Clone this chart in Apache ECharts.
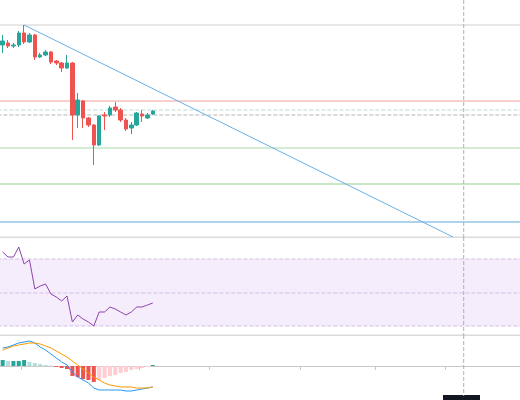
<!DOCTYPE html>
<html><head><meta charset="utf-8">
<script src="https://cdn.jsdelivr.net/npm/echarts@6/dist/echarts.min.js"></script>
<style>html,body{margin:0;background:#fff}#c{width:520px;height:400px}</style>
</head><body><div id="c"></div>
<script>
var myChart = echarts.init(document.getElementById('c'));

var slotCount = 97;
// candles: [open, close, low, high] in screen-like price units (axis inverted)
var candles = [
  [45, 41, 35, 53], [43, 46, 40, 48], [46, 45, 43, 48], [45, 33, 31, 47], [33, 42, 25, 44],
  [42, 35, 33, 43], [35, 57, 34, 60], [57, 55, 53, 58], [55, 52, 50, 56], [52, 62, 51, 64],
  [61, 63, 60, 65], [63, 68, 62, 72], [68, 63, 55, 69], [63, 115, 62, 140], [115, 100, 93, 128],
  [101, 118, 100, 128], [118, 125, 117, 127], [125, 145, 124, 165], [145, 116, 115, 146], [115, 116, 112, 130],
  [115, 108, 106, 117], [107, 110, 102, 112], [110, 120, 108, 122], [120, 129, 118, 131], [128, 125, 122, 134],
  [125, 113, 112, 126], [114, 116, 110, 122], [118, 115, 113, 119], [114, 111, 110, 115]
];
var rsi = [252, 257, 257, 247, 264, 260, 289, 286, 284, 294, 297, 301, 296, 322, 315, 319, 322, 326, 312, 312, 307, 309, 312, 315, 312, 307, 307, 305, 303];
var hist = [6, 5, 5, 5, 6, 4, 3, 2, 1, 0.5, -1, -2, -3, -10, -11, -13, -14, -16, -14, -12, -10, -9, -7, -6, -4, -3, -2, -1, 1];
var macd = [348, 347, 345, 343, 342, 341, 343, 347, 350, 354, 358, 362, 365, 372, 377, 380, 383, 388, 390, 390, 390, 390, 390, 391, 391, 390, 389, 388, 387];
var signal = [350, 348, 346, 345, 344, 343, 343, 344, 346, 348, 351, 354, 357, 361, 365, 369, 373, 377, 380, 383, 385, 386, 387, 387, 387, 388, 388, 388, 387];
var levels = [
  {y: 25, color: '#d0d0d0', type: 'solid'},
  {y: 101, color: '#f0a0a0', type: 'solid'},
  {y: 110, color: '#b9dcd8', type: 'dashed'},
  {y: 115, color: '#b5b5b5', type: 'dashed'},
  {y: 148, color: '#a6dba6', type: 'solid'},
  {y: 184, color: '#8fcf8f', type: 'solid'},
  {y: 222, color: '#5aa9d6', type: 'solid'}
];
var rsiLevels = [259, 293, 326];
var trend = [[4, 25], [84, 237]];
var crossIdx = 86;
var tickIdx = [4, 13, 26, 39, 56, 70, 83];

var cats = [];
for (var i = 0; i < slotCount; i++) cats.push(i);

var histColors = hist.map(function (v, i) {
  var p = i ? hist[i - 1] : 0;
  if (v >= 0) return v >= p ? '#26a69a' : '#b2dfdb';
  return v <= p ? '#ef5350' : '#ffcdd2';
});

var xBase = {type: 'category', data: cats, boundaryGap: true,
  axisLine: {show: false}, axisTick: {show: false}, axisLabel: {show: false}, splitLine: {show: false}};

// horizontal level drawn as a two-point line across the pane
function hline(k, y, color, type) {
  return {type: 'line', xAxisIndex: k, yAxisIndex: k, data: [[-1, y], [slotCount, y]],
    symbol: 'none', silent: true, z: 1, lineStyle: {color: color, type: type, width: 1}};
}

var series = [
  {type: 'candlestick', xAxisIndex: 0, yAxisIndex: 0, data: candles, barWidth: 4, z: 5,
    itemStyle: {color: '#ef5350', color0: '#26a69a', borderColor: '#ef5350', borderColor0: '#26a69a'}},
  {type: 'line', xAxisIndex: 0, yAxisIndex: 0, data: trend, symbol: 'none',
    lineStyle: {color: '#6ab0e6', width: 1}},
  {type: 'line', xAxisIndex: 1, yAxisIndex: 1, data: rsi, symbol: 'none', z: 5,
    lineStyle: {color: '#8e44ad', width: 1},
    markArea: {silent: true, itemStyle: {color: 'rgba(200,150,240,0.18)'}, data: [[{yAxis: 259}, {yAxis: 326}]]}},
  {type: 'bar', xAxisIndex: 2, yAxisIndex: 3, barWidth: 4,
    data: hist.map(function (v, i) { return {value: v, itemStyle: {color: histColors[i]}}; })},
  {type: 'line', xAxisIndex: 2, yAxisIndex: 2, data: macd, symbol: 'none', z: 5,
    lineStyle: {color: '#2196f3', width: 1}},
  {type: 'line', xAxisIndex: 2, yAxisIndex: 2, data: signal, symbol: 'none', z: 5,
    lineStyle: {color: '#ff9800', width: 1}}
];
levels.forEach(function (l) { series.push(hline(0, l.y, l.color, l.type)); });
rsiLevels.forEach(function (y) { series.push(hline(1, y, '#d4bfe4', 'dashed')); });
series.push(hline(1, 237, '#b8b8b8', 'solid'));
series.push(hline(2, 335, '#b8b8b8', 'solid'));
series.push({type: 'line', xAxisIndex: 0, yAxisIndex: 0, data: [[crossIdx, 0], [crossIdx, 237]],
  symbol: 'none', silent: true, lineStyle: {color: '#b0b0b0', type: 'dashed', width: 1}});
series.push({type: 'line', xAxisIndex: 1, yAxisIndex: 1, data: [[crossIdx, 237], [crossIdx, 335]],
  symbol: 'none', silent: true, lineStyle: {color: '#b0b0b0', type: 'dashed', width: 1}});
series.push({type: 'line', xAxisIndex: 2, yAxisIndex: 2, data: [[crossIdx, 335], [crossIdx, 396]],
  symbol: 'none', silent: true, lineStyle: {color: '#b0b0b0', type: 'dashed', width: 1}});

option = {
  animation: false,
  backgroundColor: '#fff',
  grid: [
    {left: 0, right: 0, top: 0, height: 237},
    {left: 0, right: 0, top: 237, height: 98},
    {left: 0, right: 0, top: 335, height: 61}
  ],
  xAxis: [
    Object.assign({gridIndex: 0}, xBase),
    Object.assign({gridIndex: 1}, xBase),
    Object.assign({gridIndex: 2}, xBase, {
      axisLine: {show: true, lineStyle: {color: '#c8c8c8'}},
      axisTick: {show: true, length: 4, lineStyle: {color: '#c8c8c8'},
        interval: function (i) { return tickIdx.indexOf(i) >= 0; }}
    })
  ],
  yAxis: [
    {gridIndex: 0, type: 'value', inverse: true, min: 0, max: 237, show: false, splitLine: {show: false}},
    {gridIndex: 1, type: 'value', inverse: true, min: 237, max: 335, show: false, splitLine: {show: false}},
    {gridIndex: 2, type: 'value', inverse: true, min: 335, max: 396, show: false, splitLine: {show: false}},
    {gridIndex: 2, type: 'value', min: -30, max: 31, show: false, splitLine: {show: false}}
  ],
  series: series,
  graphic: [{type: 'rect', shape: {x: 443, y: 395, width: 37, height: 5}, style: {fill: '#131722'}}]
};
myChart.setOption(option);
</script>
</body></html>
